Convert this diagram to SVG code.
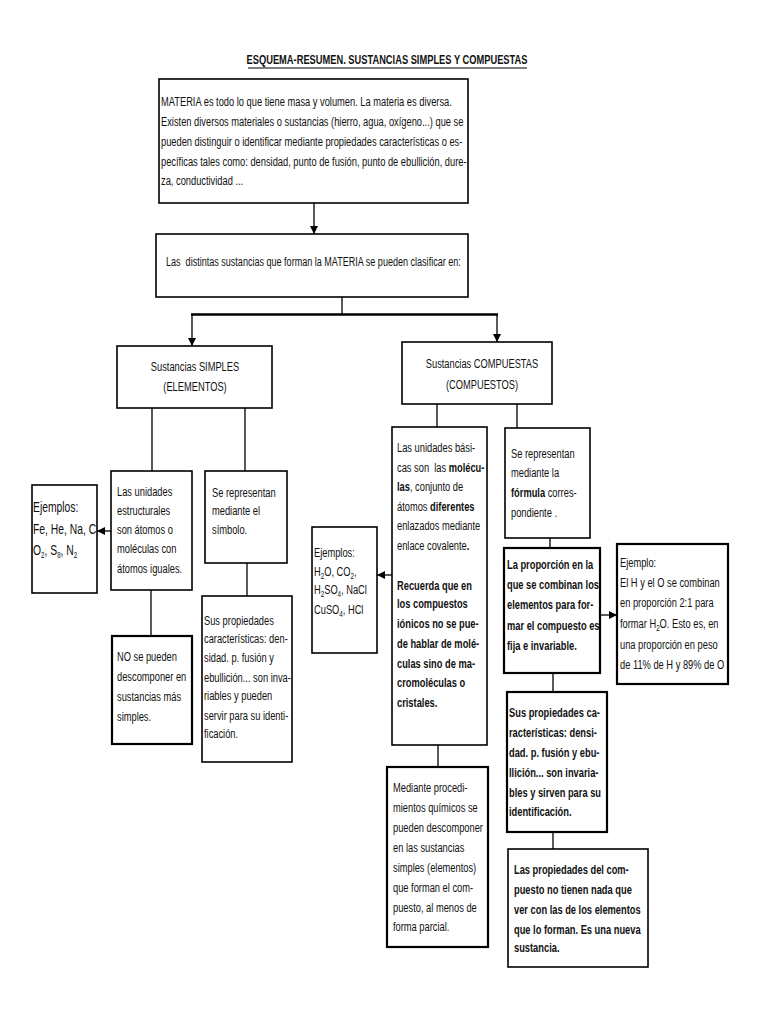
<svg xmlns="http://www.w3.org/2000/svg" width="768" height="1024" viewBox="0 0 768 1024">
<style>
.bx{fill:#fff;stroke:#000;stroke-width:1.6}
.bk{fill:#fff;stroke:#000;stroke-width:2.2}
.t{font-family:"Liberation Sans Narrow","Liberation Sans",Arial,sans-serif;font-size:13.5px;fill:#111}
.b{font-weight:bold}
.c{stroke:#000;stroke-width:1.3;fill:none}
.sub{font-size:9px}
.big{font-size:15px}
</style>
<defs>
<marker id="ah" viewBox="0 0 10 10" refX="10" refY="5" markerWidth="8" markerHeight="8" markerUnits="userSpaceOnUse" orient="auto">
<path d="M0,0 L10,5 L0,10 z" fill="#000"/>
</marker>
</defs>
<rect width="768" height="1024" fill="#fff"/>
<g id="title">
<g transform="translate(387,0) scale(0.69,1)">
<text class="t b" x="0" y="64" text-anchor="middle">ESQUEMA-RESUMEN. SUSTANCIAS SIMPLES Y COMPUESTAS</text>
</g>
<line x1="248" y1="68" x2="527" y2="68" stroke="#000" stroke-width="1.2"/>
</g>
<g id="connectors">
<line class="c" x1="314" y1="203" x2="314" y2="234" marker-end="url(#ah)"/>
<line class="c" x1="342" y1="297" x2="342" y2="314"/>
<line x1="191" y1="314.5" x2="498" y2="314.5" stroke="#000" stroke-width="2.5"/>
<line class="c" x1="192" y1="314" x2="192" y2="346" marker-end="url(#ah)"/>
<line class="c" x1="497" y1="314" x2="497" y2="342" marker-end="url(#ah)"/>
<line class="c" x1="152" y1="408" x2="152" y2="471"/>
<line class="c" x1="245" y1="408" x2="245" y2="471"/>
<line class="c" x1="111" y1="531" x2="97" y2="531" marker-end="url(#ah)"/>
<line class="c" x1="151" y1="590" x2="151" y2="636"/>
<line class="c" x1="247" y1="563" x2="247" y2="596"/>
<line class="c" x1="437" y1="404" x2="437" y2="427"/>
<line class="c" x1="517" y1="404" x2="517" y2="428"/>
<line class="c" x1="392" y1="575" x2="377" y2="575" marker-end="url(#ah)"/>
<line class="c" x1="438" y1="745" x2="438" y2="767"/>
<line class="c" x1="550" y1="538" x2="550" y2="548"/>
<line class="c" x1="600" y1="615" x2="617" y2="615" marker-end="url(#ah)"/>
<line class="c" x1="553" y1="673" x2="553" y2="692"/>
<line class="c" x1="553" y1="832" x2="553" y2="849"/>
</g>
<g id="materia">
<rect class="bx" x="159" y="79" width="309" height="124"/>
<g transform="translate(161,0) scale(0.69,1)">
<text class="t" x="0" y="106">MATERIA es todo lo que tiene masa y volumen. La materia es diversa.</text>
<text class="t" x="0" y="126">Existen diversos materiales o sustancias (hierro, agua, oxígeno...) que se</text>
<text class="t" x="0" y="146">pueden distinguir o identificar mediante propiedades características o es-</text>
<text class="t" x="0" y="166">pecíficas tales como: densidad, punto de fusión, punto de ebullición, dure-</text>
<text class="t" x="0" y="185">za, conductividad ...</text>
</g>
</g>
<g id="clasificar">
<rect class="bx" x="156" y="234" width="312" height="63"/>
<g transform="translate(166,0) scale(0.67,1)">
<text class="t" x="0" y="266" xml:space="preserve">Las  distintas sustancias que forman la MATERIA se pueden clasificar en:</text>
</g>
</g>
<g id="simples">
<rect class="bx" x="117" y="346" width="155" height="62"/>
<g transform="translate(195,0) scale(0.69,1)">
<text class="t" x="0" y="371" text-anchor="middle">Sustancias SIMPLES</text>
<text class="t" x="0" y="391" text-anchor="middle">(ELEMENTOS)</text>
</g>
</g>
<g id="unidades-simples">
<rect class="bx" x="111" y="471" width="81" height="119"/>
<g transform="translate(117,0) scale(0.69,1)">
<text class="t" x="0" y="496">Las unidades</text>
<text class="t" x="0" y="515">estructurales</text>
<text class="t" x="0" y="534">son átomos o</text>
<text class="t" x="0" y="553">moléculas con</text>
<text class="t" x="0" y="573">átomos iguales.</text>
</g>
</g>
<g id="ejemplos-simples">
<rect class="bx" x="32" y="485" width="65" height="108"/>
<g transform="translate(33,0) scale(0.69,1)">
<text class="t big" x="0" y="512">Ejemplos:</text>
<text class="t big" x="0" y="534">Fe, He, Na, C</text>
<text class="t big" x="0" y="555">O<tspan class="sub" dy="3">2</tspan><tspan dy="-3">, S</tspan><tspan class="sub" dy="3">8</tspan><tspan dy="-3">, N</tspan><tspan class="sub" dy="3">2</tspan></text>
</g>
</g>
<g id="simbolo">
<rect class="bx" x="205" y="471" width="82" height="92"/>
<g transform="translate(212,0) scale(0.69,1)">
<text class="t" x="0" y="497">Se representan</text>
<text class="t" x="0" y="515">mediante el</text>
<text class="t" x="0" y="534">símbolo.</text>
</g>
</g>
<g id="no-descomponer">
<rect class="bk" x="112" y="636" width="80" height="108"/>
<g transform="translate(117,0) scale(0.69,1)">
<text class="t" x="0" y="661">NO se pueden</text>
<text class="t" x="0" y="681">descomponer en</text>
<text class="t" x="0" y="701">sustancias más</text>
<text class="t" x="0" y="721">simples.</text>
</g>
</g>
<g id="propiedades-simples">
<rect class="bx" x="202" y="596" width="90" height="166"/>
<g transform="translate(204,0) scale(0.69,1)">
<text class="t" x="0" y="625">Sus propiedades</text>
<text class="t" x="0" y="643">características: den-</text>
<text class="t" x="0" y="662">sidad. p. fusión y</text>
<text class="t" x="0" y="682">ebullición... son inva-</text>
<text class="t" x="0" y="700">riables y pueden</text>
<text class="t" x="0" y="720">servir para su identi-</text>
<text class="t" x="0" y="738">ficación.</text>
</g>
</g>
<g id="compuestas">
<rect class="bx" x="402" y="342" width="150" height="62"/>
<g transform="translate(482,0) scale(0.69,1)">
<text class="t" x="0" y="368" text-anchor="middle">Sustancias COMPUESTAS</text>
<text class="t" x="0" y="389" text-anchor="middle">(COMPUESTOS)</text>
</g>
</g>
<g id="unidades-compuestas">
<rect class="bx" x="392" y="427" width="95" height="318"/>
<g transform="translate(397,0) scale(0.69,1)">
<text class="t" x="0" y="452">Las unidades bási-</text>
<text class="t" x="0" y="472" xml:space="preserve">cas son  las <tspan class="b">molécu-</tspan></text>
<text class="t" x="0" y="491"><tspan class="b">las</tspan>, conjunto de</text>
<text class="t" x="0" y="511">átomos <tspan class="b">diferentes</tspan></text>
<text class="t" x="0" y="530">enlazados mediante</text>
<text class="t" x="0" y="550">enlace covalente<tspan class="b">.</tspan></text>
<text class="t b" x="0" y="590">Recuerda que en</text>
<text class="t b" x="0" y="608">los compuestos</text>
<text class="t b" x="0" y="628">iónicos no se pue-</text>
<text class="t b" x="0" y="648">de hablar de molé-</text>
<text class="t b" x="0" y="668">culas sino de ma-</text>
<text class="t b" x="0" y="687">cromoléculas o</text>
<text class="t b" x="0" y="707">cristales.</text>
</g>
</g>
<g id="ejemplos-compuestos">
<rect class="bx" x="312" y="527" width="65" height="126"/>
<g transform="translate(314,0) scale(0.69,1)">
<text class="t" x="0" y="557">Ejemplos:</text>
<text class="t" x="0" y="576">H<tspan class="sub" dy="3">2</tspan><tspan dy="-3">O, CO</tspan><tspan class="sub" dy="3">2</tspan><tspan dy="-3">,</tspan></text>
<text class="t" x="0" y="594">H<tspan class="sub" dy="3">2</tspan><tspan dy="-3">SO</tspan><tspan class="sub" dy="3">4</tspan><tspan dy="-3">, NaCl</tspan></text>
<text class="t" x="0" y="614">CuSO<tspan class="sub" dy="3">4</tspan><tspan dy="-3">, HCl</tspan></text>
</g>
</g>
<g id="formula">
<rect class="bx" x="505" y="428" width="85" height="110"/>
<g transform="translate(511,0) scale(0.69,1)">
<text class="t" x="0" y="458">Se representan</text>
<text class="t" x="0" y="477">mediante la</text>
<text class="t" x="0" y="497"><tspan class="b">fórmula</tspan> corres-</text>
<text class="t" x="0" y="517">pondiente .</text>
</g>
</g>
<g id="descomponer-compuestos">
<rect class="bk" x="387" y="767" width="101" height="180"/>
<g transform="translate(393,0) scale(0.69,1)">
<text class="t" x="0" y="792">Mediante procedi-</text>
<text class="t" x="0" y="812">mientos químicos se</text>
<text class="t" x="0" y="832">pueden descomponer</text>
<text class="t" x="0" y="852">en las sustancias</text>
<text class="t" x="0" y="872">simples (elementos)</text>
<text class="t" x="0" y="892">que forman el com-</text>
<text class="t" x="0" y="912">puesto, al menos de</text>
<text class="t" x="0" y="931">forma parcial.</text>
</g>
</g>
<g id="proporcion">
<rect class="bk" x="504" y="548" width="96" height="125"/>
<g transform="translate(507,0) scale(0.69,1)">
<text class="t b" x="0" y="569">La proporción en la</text>
<text class="t b" x="0" y="589">que se combinan los</text>
<text class="t b" x="0" y="609">elementos para for-</text>
<text class="t b" x="0" y="630">mar el compuesto es</text>
<text class="t b" x="0" y="650">fija e invariable.</text>
</g>
</g>
<g id="ejemplo-agua">
<rect class="bk" x="617" y="544" width="111" height="140"/>
<g transform="translate(620,0) scale(0.69,1)">
<text class="t" x="0" y="567">Ejemplo:</text>
<text class="t" x="0" y="587">El H y el O se combinan</text>
<text class="t" x="0" y="607">en proporción 2:1 para</text>
<text class="t" x="0" y="628">formar H<tspan class="sub" dy="3">2</tspan><tspan dy="-3">O. Esto es, en</tspan></text>
<text class="t" x="0" y="649">una proporción en peso</text>
<text class="t" x="0" y="669">de 11% de H y 89% de O</text>
</g>
</g>
<g id="propiedades-compuestos">
<rect class="bk" x="507" y="692" width="100" height="140"/>
<g transform="translate(509,0) scale(0.69,1)">
<text class="t b" x="0" y="717">Sus propiedades ca-</text>
<text class="t b" x="0" y="737">racterísticas: densi-</text>
<text class="t b" x="0" y="757">dad. p. fusión y ebu-</text>
<text class="t b" x="0" y="777">llición... son invaria-</text>
<text class="t b" x="0" y="797">bles y sirven para su</text>
<text class="t b" x="0" y="816">identificación.</text>
</g>
</g>
<g id="nueva-sustancia">
<rect class="bx" x="508" y="849" width="140" height="118"/>
<g transform="translate(514,0) scale(0.69,1)">
<text class="t b" x="0" y="874">Las propiedades del com-</text>
<text class="t b" x="0" y="894">puesto no tienen nada que</text>
<text class="t b" x="0" y="914">ver con las de los elementos</text>
<text class="t b" x="0" y="934">que lo forman. Es una nueva</text>
<text class="t b" x="0" y="952">sustancia.</text>
</g>
</g>
</svg>
